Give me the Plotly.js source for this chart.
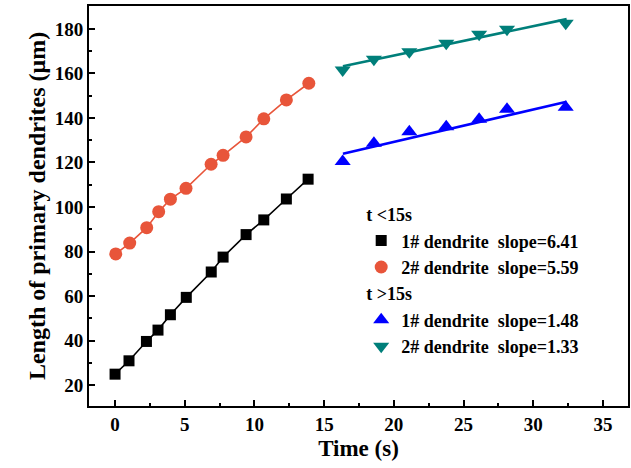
<!DOCTYPE html>
<html>
<head>
<meta charset="utf-8">
<script src="https://cdn.plot.ly/plotly-3.0.1.min.js"></script>
<style>html,body{margin:0;padding:0;background:#fff}#chart{width:631px;height:468px}</style>
</head>
<body>
<div id="chart"></div>
<script>
// Data
const t1Early = [0, 1.0, 2.25, 3.08, 3.97, 5.11, 6.9, 7.75, 9.4, 10.67, 12.29, 13.85];
const d1Early = [24.9, 30.9, 39.6, 44.7, 51.6, 59.4, 70.8, 77.5, 87.6, 94.2, 103.6, 112.5];
const t2Early = [0.05, 1.05, 2.27, 3.13, 3.97, 5.09, 6.89, 7.75, 9.4, 10.67, 12.29, 13.9];
const d2Early = [78.9, 83.8, 90.7, 97.9, 103.5, 108.4, 119.2, 123.2, 131.5, 139.6, 148.1, 155.6];
const tLate = [16.33, 18.57, 21.11, 23.76, 26.12, 28.12, 32.33];
const d1Late = [120.4, 128.6, 133.8, 136.1, 139.4, 143.9, 144.8];
const d2Late = [161.6, 166.4, 169.8, 173.6, 177.6, 179.9, 182.6];
// fitted line end points
const fitT = [16.35, 32.4];
const fit1Late = [123.9, 147.3];
const fit2Late = [163.2, 184.4];

const names = ['1# dendrite  slope=6.41', '2# dendrite  slope=5.59', '1# dendrite  slope=1.48', '2# dendrite  slope=1.33'];
const groupTitles = ['t <15s', 't >15s'];

const C_BLACK = '#000000', C_RED = '#E8553A', C_BLUE = '#0000FF', C_TEAL = '#007F7A';
const FONT = 'Liberation Serif, Times New Roman, serif';

const traces = [
  {x: t1Early, y: d1Early, mode: 'lines', line: {color: C_BLACK, width: 1.6}, showlegend: false, hoverinfo: 'skip'},
  {x: t2Early, y: d2Early, mode: 'lines', line: {color: C_RED, width: 1.6}, showlegend: false, hoverinfo: 'skip'},
  {x: fitT, y: fit1Late, mode: 'lines', line: {color: C_BLUE, width: 2.6}, showlegend: false, hoverinfo: 'skip'},
  {x: fitT, y: fit2Late, mode: 'lines', line: {color: C_TEAL, width: 2.6}, showlegend: false, hoverinfo: 'skip'},
  {x: t1Early, y: d1Early, mode: 'markers', name: names[0], legendgroup: 'a',
   legendgrouptitle: {text: groupTitles[0]},
   marker: {symbol: 'square', size: 11, color: C_BLACK}},
  {x: t2Early, y: d2Early, mode: 'markers', name: names[1], legendgroup: 'a',
   marker: {symbol: 'circle', size: 13, color: C_RED}},
  {x: tLate, y: d1Late, mode: 'markers', name: names[2], legendgroup: 'b',
   legendgrouptitle: {text: groupTitles[1]},
   marker: {symbol: 'triangle-up', size: 14, color: C_BLUE}},
  {x: tLate, y: d2Late, mode: 'markers', name: names[3], legendgroup: 'b',
   marker: {symbol: 'triangle-down', size: 14, color: C_TEAL}}
];

const axisCommon = {
  showline: true, linecolor: '#000', linewidth: 2, mirror: true,
  ticks: 'inside', ticklen: 6, tickwidth: 2, tickcolor: '#000',
  showgrid: false, zeroline: false,
  tickfont: {family: FONT, size: 19, color: '#000', weight: 'bold'}
};

const layout = {
  width: 631, height: 468,
  margin: {l: 89, r: 3, t: 6, b: 62},
  paper_bgcolor: '#fff', plot_bgcolor: '#fff',
  font: {family: FONT, color: '#000'},
  xaxis: Object.assign({}, axisCommon, {
    range: [-1.87, 36.8], tickmode: 'linear', tick0: 0, dtick: 5,
    minor: {dtick: 2.5, ticklen: 3, tickwidth: 2, tickcolor: '#000', ticks: 'inside'},
    title: {text: 'Time (s)', font: {family: FONT, size: 23, weight: 'bold'}, standoff: 6}
  }),
  yaxis: Object.assign({}, axisCommon, {
    range: [10.6, 190.3], tickmode: 'linear', tick0: 0, dtick: 20,
    minor: {dtick: 10, ticklen: 3, tickwidth: 2, tickcolor: '#000', ticks: 'inside'},
    title: {text: 'Length of primary dendrites (μm)', font: {family: FONT, size: 24, weight: 'bold'}, standoff: 2}
  }),
  legend: {
    x: 0.505, y: 0.525, xanchor: 'left', yanchor: 'top',
    bgcolor: 'rgba(0,0,0,0)', borderwidth: 0,
    font: {family: FONT, size: 18, weight: 'bold', color: '#000'},
    grouptitlefont: {family: FONT, size: 18, weight: 'bold', color: '#000'},
    traceorder: 'grouped', tracegroupgap: 0, itemwidth: 30
  },
  showlegend: true
};

Plotly.newPlot('chart', traces, layout, {displayModeBar: false, staticPlot: true});
</script>
</body>
</html>
